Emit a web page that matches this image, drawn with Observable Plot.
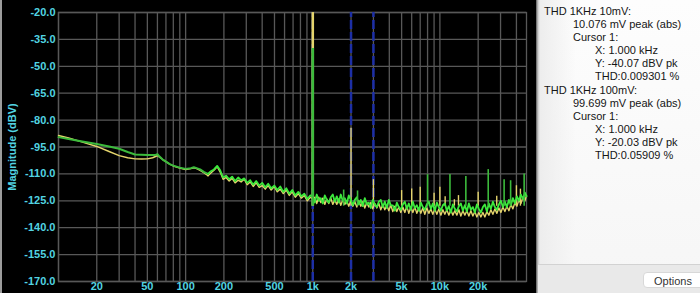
<!DOCTYPE html>
<html><head><meta charset="utf-8">
<script src="https://cdn.jsdelivr.net/npm/d3@7"></script>
<script src="https://cdn.jsdelivr.net/npm/@observablehq/plot@0.6"></script>
<style>
html,body{margin:0;padding:0;background:#000;}
#wrap{position:relative;width:700px;height:293px;background:#000;overflow:hidden;font-family:"Liberation Sans",Arial,Helvetica,sans-serif;}
#chart{position:absolute;left:0;top:0;}
#strip{position:absolute;left:0;top:0;width:2px;height:293px;background:#9c9c9c;}
#panel{position:absolute;left:536px;top:0;width:164px;height:293px;
 background:linear-gradient(to right,#5a5a5a 0px,#c8c8c8 2px,#ededed 4px,rgba(250,250,250,0) 40px),linear-gradient(to bottom,#fdfdfd 0%,#f6f6f6 100%);}
#lines{position:absolute;left:0;top:5px;width:164px;}
#lines div{height:13.1px;line-height:13.1px;font-size:11px;color:#151515;white-space:nowrap;}
#bar{position:absolute;left:2px;top:264px;width:162px;height:29px;background:#e9e9e9;border-top:1px solid #d2d2d2;}
#btn{position:absolute;left:105px;top:7px;width:70px;height:16px;background:#fff;border:1px solid #d8d8d8;border-radius:4px;font-size:11px;line-height:16px;color:#333;padding-left:10px;box-sizing:border-box;}
</style></head>
<body>
<div id="wrap"><div id="chart"></div><div id="strip"></div>
<div id="panel"><div id="lines"></div><div id="bar"><div id="btn">Options</div></div></div></div>
<script>
// ---- data ----
const freqsA = [10, 12, 15, 20, 25, 30, 35, 40, 45, 50, 55, 58, 60, 62, 66, 70, 75, 80, 90, 100, 110, 116, 122, 130, 140, 150];
const greenA = [-89.5, -90.5, -91.8, -93.3, -94.7, -96, -97.8, -99.2, -99.3, -99.4, -99.4, -99.4, -99, -100.2, -102, -103.2, -104.5, -105.4, -106.5, -107.2, -106.8, -106.3, -106.8, -107.5, -109, -110];
const yellowA = [-88.6, -90, -92, -94.7, -97.5, -99.8, -101, -101.6, -101.7, -101.6, -101, -100.3, -99.8, -100.5, -102, -103.2, -104.5, -105.6, -106.8, -107.6, -107, -106.6, -107, -108, -109.5, -111];

const freqsB = [150, 158, 167, 177, 187, 197, 208, 220, 232, 245, 259, 273, 289, 305, 322, 340, 359, 379, 400, 423, 446, 471, 498, 526, 555, 586, 619, 654, 690, 729, 770, 813, 858, 906, 957];
const greenB = [-110, -108.5, -107.5, -105.5, -108, -112, -111, -113, -111.5, -114, -112, -113.5, -112.5, -115, -113.5, -116, -114, -116.5, -115, -117.5, -115.5, -118, -116.5, -119, -117, -120, -118, -121, -119, -122, -120, -122.5, -121, -124, -122];
const yellowB = [-111, -109.5, -108, -106, -109, -113, -112, -114, -112.5, -115, -113.5, -114.5, -113, -116, -114.5, -117, -115, -117.5, -116.5, -118.5, -116.5, -119, -117, -120, -118.5, -121, -119, -122, -120, -123, -121, -123.5, -122, -125, -123];

const freqsC = [1000, 1037, 1075, 1115, 1156, 1199, 1243, 1289, 1336, 1386, 1437, 1490, 1545, 1602, 1661, 1722, 1786, 1852, 1920, 1991, 2065, 2141, 2220, 2302, 2387, 2475, 2566, 2661, 2759, 2861, 2967, 3076, 3190, 3307, 3429, 3556, 3687, 3823, 3964, 4111, 4262, 4420, 4583, 4752, 4927, 5109, 5298, 5493, 5696, 5906, 6124, 6350, 6585, 6828, 7080, 7341, 7612, 7893, 8185, 8487, 8800, 9125, 9462, 9811, 10173, 10549, 10938, 11342, 11761, 12195, 12645, 13112, 13596, 14098, 14618, 15158, 15718, 16298, 16900, 17524, 18171, 18842, 19537, 20259, 21007, 21782, 22586, 23420, 24285, 25181, 26111, 27075, 28074, 29111, 30185, 31300, 32455, 33653, 34896, 36184, 37520, 38905, 40341, 41831, 43375, 44976, 46637, 48000];
const greenC = [-122.5, -126, -121.5, -125, -123.5, -126.5, -122, -124.5, -126, -123, -121.5, -125.5, -122.5, -126, -121.5, -125, -123.5, -126.5, -122, -124.5,
  -127.5, -124.5, -123, -127, -124.5, -128, -123.5, -127, -126, -129, -124.5, -127, -128.5, -125.5, -124.5, -128.5, -125.5, -129, -124.5, -127.5,
  -127.5, -130.5, -126, -128.5, -130, -127, -125.5, -129.5, -126.5, -130, -125.5, -129, -127.5, -130.5, -126, -128.5, -130, -127, -125.5, -129.5, -126.5, -130.5, -126, -128.5,
  -130.5, -127.5, -126.5, -130.5, -128, -131.5, -127, -129.5, -131, -128, -126.5, -130.5, -127.5, -131, -126.5, -130, -128.5, -131.5, -127, -129.5, -131.5, -128.5, -127, -131,
  -126.5, -129.5, -125.5, -128.5, -130, -127, -125, -128.5, -125.5, -128.5, -124.5, -127.5,
  -123.5, -126.5, -122.5, -125, -121.5, -124, -120.5, -122.5];
const yellowC = [-124, -123, -126.5, -123, -126, -123.5, -127, -124, -126.5, -123.5, -127, -124.5, -127, -124, -127.5, -124.5, -127, -125, -128, -125, -128, -125.5, -128.5, -125, -128, -125.5, -129, -126, -128.5, -126, -129.5, -126.5, -129, -126.5, -130, -127, -130, -127.5, -130.5, -127.5, -131, -128, -131, -128.5, -131.5, -128.5, -131.5, -128, -132, -128.5, -131.5, -128.5, -132, -129, -132, -129, -132.5, -129, -132, -129.5, -132.5, -129.5, -132.5, -129.5, -133, -130, -132.5, -130, -133, -130, -133, -130.5, -133, -130, -133.5, -130.5, -133, -130.5, -133.5, -130.5, -133.5, -131, -134, -131.5, -134, -131.5, -134, -131, -133, -130, -132.5, -129.5, -132, -129, -131.5, -128.5, -131, -128, -130.5, -127, -129.5, -126, -128, -124.5, -126.5, -123, -125, -122];

const fundFreq = [1000];
const yellowFundTop = [-20.03];
const greenFundTop = [-40.07];
const spikeBase = -128;
const yellowSpikeFreqs = [2000, 3000, 5000, 6000, 7000, 9000, 10000, 11000, 13000, 14000, 20000, 28000, 40000, 43000];
const yellowSpikeTops = [-84.5, -113.2, -119.3, -118.4, -117.5, -120.8, -117.5, -122.7, -124.4, -122.1, -120.3, -122.4, -116.6, -118.5];
const greenSpikeFreqs = [1750, 2250, 8000, 12000, 16000, 24000, 32000, 36000, 46000];
const greenSpikeTops = [-119, -119.5, -110.4, -110.4, -111.5, -107.6, -113.2, -113.8, -110];

const cursorFreqs = [1000, 2000, 3000];
const gridFreqs = [10,20,30,40,50,60,70,80,90,100,200,300,400,500,600,700,800,900,1000,2000,3000,4000,5000,6000,7000,8000,9000,10000,20000,30000,40000];
const yTicks = [-170,-155,-140,-125,-110,-95,-80,-65,-50,-35,-20];
const xTickVals = [20,50,100,200,500,1000,2000,5000,10000,20000];
const xTickLabels = ["20","50","100","200","500","1k","2k","5k","10k","20k"];
const yLabel = "Magnitude (dBV)";

const panelLines = [
 [0,"THD 1KHz 10mV:"],[1,"10.076 mV peak (abs)"],[1,"Cursor 1:"],[2,"X: 1.000 kHz"],[2,"Y: -40.07 dBV pk"],[2,"THD:0.009301 %"],
 [0,"THD 1KHz 100mV:"],[1,"99.699 mV peak (abs)"],[1,"Cursor 1:"],[2,"X: 1.000 kHz"],[2,"Y: -20.03 dBV pk"],[2,"THD:0.05909 %"]
];

// ---- build ----
const toPts = (fs, vs) => fs.map((f, i) => ({f, db: vs[i]}));
const greenLow = toPts(freqsA, greenA);
const yellowLow = toPts(freqsA, yellowA);
const greenHigh = toPts(freqsB.concat(freqsC), greenB.concat(greenC));
const yellowHigh = toPts(freqsB.concat(freqsC), yellowB.concat(yellowC));
const ySp = toPts(yellowSpikeFreqs, yellowSpikeTops);
const gSp = toPts(greenSpikeFreqs, greenSpikeTops);
const yF = toPts(fundFreq, yellowFundTop);
const gF = toPts(fundFreq, greenFundTop);
const xLab = xTickVals.map((v, i) => ({v, t: xTickLabels[i]}));

const cyan = "#52d4e2";
const gridC = "#585858";
const yellow = "#e4d46c";
const greenDark = "#3cbb3c";
const greenBright = "#3ce83c";

const chart = Plot.plot({
  width: 536, height: 293,
  marginLeft: 58, marginRight: 10, marginTop: 12, marginBottom: 12,
  style: {background: "#000", color: cyan, fontFamily: "'Liberation Sans', Arial, sans-serif", fontSize: "11px", overflow: "visible"},
  x: {type: "log", domain: [10, 48000], axis: null},
  y: {domain: [-170, -20], axis: null},
  marks: [
    Plot.ruleX(gridFreqs, {stroke: gridC, strokeWidth: 1.3}),
    Plot.ruleY(yTicks, {stroke: gridC, strokeWidth: 1.3}),
    Plot.frame({stroke: gridC, strokeWidth: 1.3}),
    Plot.ruleX(cursorFreqs, {y1: -170, y2: -20, stroke: "#1d2fa6", strokeWidth: 2.5, strokeDasharray: "9,3"}),
    Plot.line(yellowLow, {x: "f", y: "db", stroke: yellow, strokeWidth: 1.4}),
    Plot.line(yellowHigh, {x: "f", y: "db", stroke: yellow, strokeWidth: 1.4}),
    Plot.ruleX(ySp, {x: "f", y1: spikeBase, y2: "db", stroke: yellow, strokeWidth: 1.4}),
    Plot.ruleX(yF, {x: "f", y1: spikeBase, y2: "db", stroke: yellow, strokeWidth: 2.6}),
    Plot.line(greenLow, {x: "f", y: "db", stroke: greenDark, strokeWidth: 2}),
    Plot.line(greenHigh, {x: "f", y: "db", stroke: greenBright, strokeWidth: 1.8}),
    Plot.ruleX(gSp, {x: "f", y1: spikeBase, y2: "db", stroke: greenDark, strokeWidth: 1.6}),
    Plot.ruleX(gF, {x: "f", y1: spikeBase, y2: "db", stroke: greenDark, strokeWidth: 2.6}),
    Plot.text(yTicks, {y: d => d, frameAnchor: "left", text: d => d.toFixed(1), textAnchor: "end", dx: -3, fill: cyan, fontWeight: "bold"}),
    Plot.text(xLab, {x: "v", frameAnchor: "bottom", text: "t", lineAnchor: "top", dy: 1, fill: cyan, fontWeight: "bold"}),
    Plot.text([yLabel], {frameAnchor: "left", rotate: -90, dx: -46, fill: cyan, fontSize: 11, textAnchor: "middle", fontWeight: "bold"})
  ]
});
document.getElementById("chart").appendChild(chart);

const indent = [8, 37, 59];
const lines = document.getElementById("lines");
panelLines.forEach(([lvl, t]) => {
  const d = document.createElement("div");
  d.style.paddingLeft = indent[lvl] + "px";
  d.textContent = t;
  lines.appendChild(d);
});
</script>
</body></html>
